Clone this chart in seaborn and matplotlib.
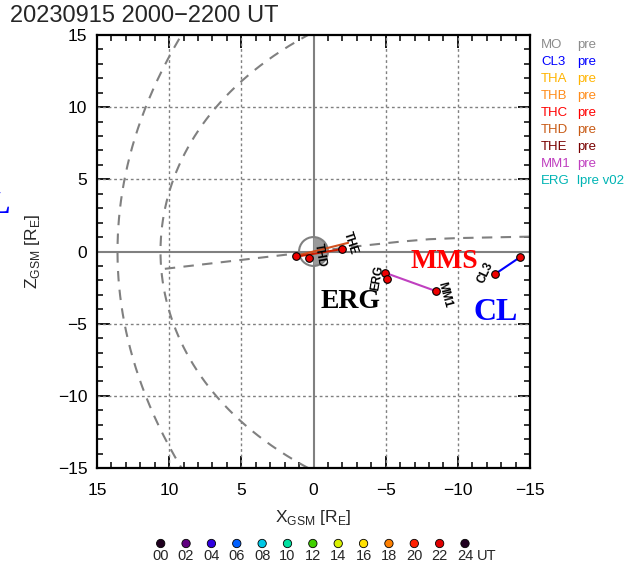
import numpy as np
import pandas as pd
import matplotlib
matplotlib.use("Agg")
import matplotlib.pyplot as plt
from matplotlib.patches import Wedge, Circle
from matplotlib.ticker import MultipleLocator
import seaborn as sns

sns.set_theme(style="white")
plt.rcParams["font.family"] = ["Liberation Sans", "DejaVu Sans"]
plt.rcParams["mathtext.fontset"] = "custom"
plt.rcParams["mathtext.rm"] = "Liberation Sans"

# ---------------- data ----------------
title = "20230915 2000\u22122200 UT"

# spacecraft tracks in GSM (X, Z) [R_E]
the_x = [1.2, -2.4]
the_z = [-0.30, 0.60]
thd_x = [1.2, -2.0]
thd_z = [-0.36, 0.17]
thd_mid_x = [0.3]
thd_mid_z = [-0.43]
mm1_x = [-4.95, -8.5]
mm1_z = [-1.47, -2.75]
erg_x = [-4.95, -5.1]
erg_z = [-1.47, -1.90]
cl3_x = [-12.6, -14.3]
cl3_z = [-1.55, -0.40]

# model boundaries
mp_r0, mp_alpha = 10.6, 0.52      # magnetopause (Shue-type)
bs_L, bs_ecc = 25.8, 0.90         # bow shock (conic)

# neutral sheet
ns_x = [10.3, 0.0, -3.2, -6.0, -8.0, -10.0, -15.0]
ns_z = [-1.2, 0.0, 0.38, 0.68, 0.85, 0.93, 1.03]

# legend
leg_names = ["MO", "CL3", "THA", "THB", "THC", "THD", "THE", "MM1", "ERG"]
leg_modes = ["pre", "pre", "pre", "pre", "pre", "pre", "pre", "pre", "lpre v02"]
leg_colors = ["#8c8c8c", "#0000ff", "#ffb400", "#ff8c1a", "#ff0000",
              "#c85a14", "#780000", "#c040c0", "#00b4b4"]

# time colour key
ut_hours = [0, 2, 4, 6, 8, 10, 12, 14, 16, 18, 20, 22, 24]
ut_colors = ["#200020", "#600080", "#3000e0", "#0060ff", "#00c8e6", "#00e0a0",
             "#40d000", "#d8f000", "#ffe000", "#ff8000", "#ff2000", "#e00000",
             "#200020"]

# ---------------- figure ----------------
W, H = 633, 563
fig = plt.figure(figsize=(W / 100, H / 100), dpi=100)
fig.patch.set_facecolor("white")
ax = fig.add_axes([97 / W, 1 - 468 / H, 433 / W, 433 / H])
ax.set_facecolor("white")

gray = "#808080"
dash = (0, (5, 4))

# grid
for v in (-10, -5, 5, 10):
    ax.axvline(v, color=gray, lw=1.0, ls=(0, (2, 2)), zorder=1)
    ax.axhline(v, color=gray, lw=1.0, ls=(0, (2, 2)), zorder=1)
ax.axvline(0, color=gray, lw=1.5, zorder=1)
ax.axhline(0, color=gray, lw=1.5, zorder=1)

# magnetopause and bow shock
th = np.linspace(-np.pi * 0.85, np.pi * 0.85, 400)
r_mp = mp_r0 * (2.0 / (1.0 + np.cos(th))) ** mp_alpha
mp = pd.DataFrame({"x": r_mp * np.cos(th), "z": r_mp * np.sin(th)})
th_b = np.linspace(-2.2, 2.2, 400)
r_bs = bs_L / (1.0 + bs_ecc * np.cos(th_b))
bs = pd.DataFrame({"x": r_bs * np.cos(th_b), "z": r_bs * np.sin(th_b)})
for df in (mp, bs):
    ax.plot(df["x"], df["z"], color=gray, lw=1.5, ls=dash, zorder=2)
ns = pd.DataFrame({"x": ns_x, "z": ns_z})
ax.plot(ns["x"], ns["z"], color=gray, lw=1.5, ls=dash, zorder=2)

# Earth
ax.add_patch(Wedge((0, 0), 1.0, 90, 270, facecolor="#9a9a9a", edgecolor="none", zorder=3))
ax.add_patch(Circle((0, 0), 1.0, facecolor="none", edgecolor=gray, lw=1.5, zorder=3))

# tracks
def track(xs, zs, color, lw=1.5):
    df = pd.DataFrame({"x": xs, "z": zs})
    sns.lineplot(data=df, x="x", y="z", sort=False, estimator=None,
                 color=color, lw=lw, ax=ax, zorder=4)

track(the_x, the_z, "#d2501e")
track(thd_x, thd_z, "#d01e00")
track(mm1_x, mm1_z, "#c040c0")
track(erg_x, erg_z, "#00c8c8", lw=2.5)
track(cl3_x, cl3_z, "#0000ff")

dots = pd.DataFrame({
    "x": [the_x[0], thd_x[1], thd_mid_x[0], mm1_x[0], mm1_x[1], erg_x[1], cl3_x[0], cl3_x[1]],
    "z": [the_z[0], thd_z[1], thd_mid_z[0], mm1_z[0], mm1_z[1], erg_z[1], cl3_z[0], cl3_z[1]],
})
sns.scatterplot(data=dots, x="x", y="z", color="#ee0000", edgecolor="black",
                linewidth=0.8, s=30, ax=ax, zorder=5)

# small orbit labels
small = dict(fontsize=8.5, fontweight="bold", color="black", ha="center",
             va="center", zorder=6)
ax.text(-2.55, 0.55, "THE", rotation=-72, **small)
ax.text(-0.45, -0.25, "THD", rotation=-80, **small)
ax.text(-4.4, -1.85, "ERG", rotation=80, **small)
ax.text(-9.1, -3.0, "MM1", rotation=-75, **small)
ax.text(-11.9, -1.5, "CL3", rotation=65, **small)

# mission labels
big = dict(fontfamily=["Liberation Serif", "DejaVu Serif"], fontweight="bold",
           ha="center", va="center", zorder=7, clip_on=False)
ax.text(-9.05, -0.7, "MMS", color="#ff0000", fontsize=20, **big)
ax.text(-2.55, -3.45, "ERG", color="black", fontsize=20, **big)
ax.text(-12.65, -4.25, "CL", color="#0000ff", fontsize=23, **big)
fig.text(11 / W, 1 - 205 / H, "CL", color="#0000ff", fontsize=23,
         fontfamily=["Liberation Serif", "DejaVu Serif"], fontweight="bold",
         ha="right", va="center")

# axes
ax.set_xlim(15, -15)
ax.set_ylim(-15, 15)
ax.xaxis.set_major_locator(MultipleLocator(5))
ax.yaxis.set_major_locator(MultipleLocator(5))
ax.xaxis.set_minor_locator(MultipleLocator(1))
ax.yaxis.set_minor_locator(MultipleLocator(1))
ax.tick_params(which="both", direction="in", top=True, right=True,
               bottom=True, left=True, color="black", labelsize=12.5,
               labelcolor="black")
ax.tick_params(which="major", length=9, width=1.3)
ax.tick_params(which="minor", length=4.5, width=1.1)
ax.tick_params(axis="x", which="major", pad=11)
ax.tick_params(axis="y", which="major", pad=7)
ax.set_xticks([15, 10, 5, 0, -5, -10, -15])
ax.set_xticklabels(["15", "10", "5", "0", "\u22125", "\u221210", "\u221215"])
ax.set_yticks([-15, -10, -5, 0, 5, 10, 15])
ax.set_yticklabels(["\u221215", "\u221210", "\u22125", "0", "5", "10", "15"])
for s in ax.spines.values():
    s.set_color("black")
    s.set_linewidth(1.6)
ax.set_xlabel(r"X$_\mathregular{GSM}$ [R$_\mathregular{E}$]", fontsize=12.5, labelpad=7)
ax.set_ylabel(r"Z$_\mathregular{GSM}$ [R$_\mathregular{E}$]", fontsize=12.5, labelpad=11)

fig.text(10 / W, 1 - 16 / H, title, fontsize=17, ha="left", va="center")

# legend column
for i, (n, m, c) in enumerate(zip(leg_names, leg_modes, leg_colors)):
    y = 1 - (45 + i * 17) / H
    fig.text(541 / W, y, n, color=c, fontsize=9.5, va="center", ha="left")
    fig.text(577 / W, y, m, color=c, fontsize=9.5, va="center", ha="left")

# time colour key
tax = fig.add_axes([160.7 / W, 1 - 560 / H, (465 - 160.7) / W, 30 / H])
tax.set_xlim(0, 24)
tax.set_ylim(0, 1)
tax.axis("off")
key = pd.DataFrame({"h": ut_hours, "y": [0.55] * len(ut_hours), "c": ut_colors})
sns.scatterplot(data=key, x="h", y="y", hue="c", palette=dict(zip(ut_colors, ut_colors)),
                edgecolor="black", linewidth=0.6, s=36, legend=False, ax=tax,
                clip_on=False)
for h in ut_hours:
    tax.text(h, 0.12, f"{h:02d}", ha="center", va="center", fontsize=10.5)
tax.text(25.7, 0.12, "UT", ha="center", va="center", fontsize=10.5)

fig.savefig("out.png", dpi=100, facecolor="white")
